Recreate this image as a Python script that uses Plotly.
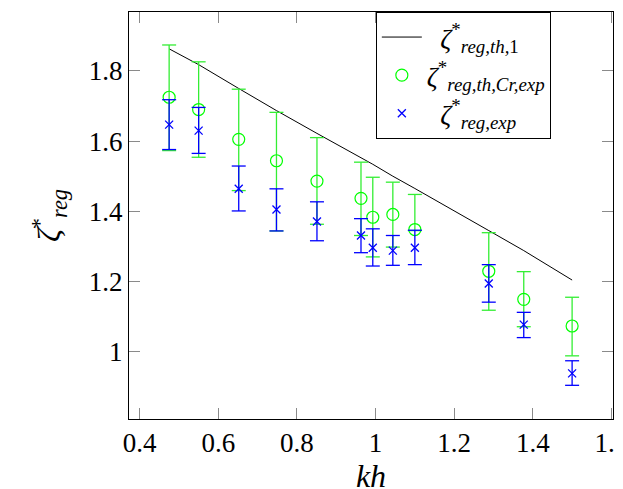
import plotly.graph_objects as go

# ---- data ----
kh = [0.475, 0.55, 0.652, 0.748, 0.851, 0.963, 0.993, 1.044, 1.10, 1.288, 1.377, 1.50]

zeta_th1 = [1.863, 1.818, 1.750, 1.687, 1.622, 1.553, 1.534, 1.500, 1.465, 1.345, 1.288, 1.204]

zeta_cr = [1.725, 1.690, 1.605, 1.544, 1.486, 1.437, 1.383, 1.391, 1.348, 1.229, 1.149, 1.073]
zeta_cr_hi = [1.874, 1.826, 1.748, 1.682, 1.610, 1.540, 1.497, 1.483, 1.448, 1.339, 1.228, 1.155]
zeta_cr_lo = [1.573, 1.554, 1.459, 1.344, 1.363, 1.331, 1.270, 1.298, 1.345, 1.118, 1.071, 0.988]

zeta_exp = [1.647, 1.630, 1.464, 1.405, 1.371, 1.331, 1.296, 1.288, 1.296, 1.194, 1.077, 0.938]
zeta_exp_hi = [1.718, 1.696, 1.529, 1.464, 1.427, 1.379, 1.350, 1.331, 1.346, 1.248, 1.112, 0.974]
zeta_exp_lo = [1.576, 1.565, 1.401, 1.344, 1.316, 1.282, 1.244, 1.246, 1.248, 1.141, 1.040, 0.904]

x_ticks = [0.4, 0.6, 0.8, 1.0, 1.2, 1.4, 1.6]
y_ticks = [1.0, 1.2, 1.4, 1.6, 1.8]

name_th1 = "  <i>ζ</i><sup>*</sup><sub><i>reg,th,</i>1</sub>"
name_cr = "<i>ζ</i><sup>*</sup><sub><i>reg,th,C</i><i>r,exp</i></sub>"
name_exp = "  <i>ζ</i><sup>*</sup><sub><i>reg,exp</i></sub>"

FONT = "Liberation Serif"
GREEN = "#00ff00"
GREEN_BAR = "#33ee33"
BLUE = "#0000ff"


def stems(xs, lo, hi):
    sx, sy = [], []
    for x, a, b in zip(xs, lo, hi):
        sx += [x, x, None]
        sy += [a, b, None]
    return sx, sy


fig = go.Figure()
fig.add_trace(go.Scatter(
    x=kh, y=zeta_th1, mode="lines", name=name_th1,
    line=dict(color="black", width=1),
))

# green error bars (stems + caps)
gx, gy = stems(kh, zeta_cr_lo, zeta_cr_hi)
fig.add_trace(go.Scatter(x=gx, y=gy, mode="lines", line=dict(color=GREEN_BAR, width=1.3),
                         showlegend=False, hoverinfo="skip"))
fig.add_trace(go.Scatter(x=kh + kh, y=zeta_cr_lo + zeta_cr_hi, mode="markers", showlegend=False,
                         hoverinfo="skip",
                         marker=dict(symbol="line-ew", size=10, line=dict(color=GREEN_BAR, width=1.3))))
fig.add_trace(go.Scatter(
    x=kh, y=zeta_cr, mode="markers", name=name_cr,
    marker=dict(symbol="circle-open", size=12, color=GREEN, line=dict(width=1.2, color=GREEN)),
))

# blue error bars (stems + caps)
bx, by = stems(kh, zeta_exp_lo, zeta_exp_hi)
fig.add_trace(go.Scatter(x=bx, y=by, mode="lines", line=dict(color=BLUE, width=1.3),
                         showlegend=False, hoverinfo="skip"))
fig.add_trace(go.Scatter(x=kh + kh, y=zeta_exp_lo + zeta_exp_hi, mode="markers", showlegend=False,
                         hoverinfo="skip",
                         marker=dict(symbol="line-ew", size=10, line=dict(color=BLUE, width=1.3))))
fig.add_trace(go.Scatter(
    x=kh, y=zeta_exp, mode="markers", name=name_exp,
    marker=dict(symbol="x-thin", size=8, color=BLUE, line=dict(width=1.3, color=BLUE)),
))

fig.update_layout(
    width=623, height=489,
    margin=dict(l=121, r=16, t=3, b=78),
    paper_bgcolor="white", plot_bgcolor="white",
    font=dict(family=FONT, size=27, color="black"),
    showlegend=True,
    xaxis=dict(range=[0.3729, 1.604], tickvals=x_ticks, ticktext=[f"{v:g}" for v in x_ticks],
               showgrid=False, zeroline=False, showline=True, linecolor="black", linewidth=1,
               mirror="ticks", ticks="inside", ticklen=11, tickwidth=1, tickcolor="#8a8a8a",
               title=dict(text="<i>kh</i>", standoff=0)),
    yaxis=dict(range=[0.808, 1.968], tickvals=y_ticks, ticktext=[f"{v:g}" for v in y_ticks],
               showgrid=False, zeroline=False, showline=True, linecolor="black", linewidth=1,
               mirror="ticks", ticks="inside", ticklen=11, tickwidth=1, tickcolor="#8a8a8a",
               title=dict(text="<i>ζ</i><sup>*</sup><sub><i>reg</i></sub>", standoff=18)),
    legend=dict(x=0.51, y=1.0, xanchor="left", yanchor="top",
                bordercolor="black", borderwidth=1, bgcolor="white",
                itemwidth=40, tracegroupgap=0),
)

fig.write_html("out.html")
